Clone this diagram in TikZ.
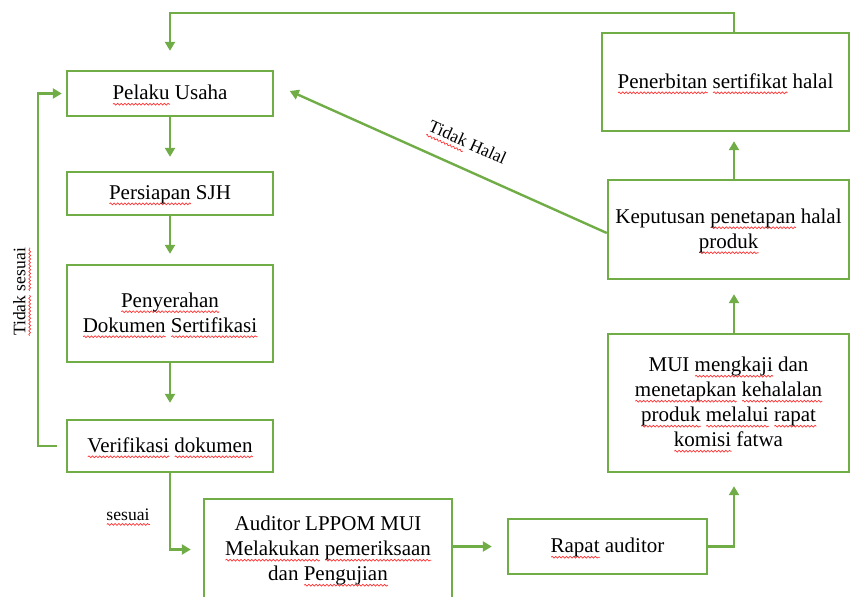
\documentclass[tikz,border=0pt]{standalone}
\usepackage{fontspec}
\setmainfont{Liberation Serif}
\usetikzlibrary{arrows.meta, decorations.pathmorphing}
\definecolor{leafgreen}{RGB}{112,173,71}
\newsavebox{\sqbox}
\newlength{\sqlen}
\newcommand{\sq}[1]{\sbox{\sqbox}{#1}\setlength{\sqlen}{\wd\sqbox}%
  \rlap{\pgfinterruptpicture\tikz[baseline=0pt]\draw[-, shorten >=0pt, shorten <=0pt, red!80, line width=0.35pt, decorate,
    decoration={snake, amplitude=0.45pt, segment length=1.8pt}] (0pt,-2.2pt) -- (\sqlen,-2.2pt);\endpgfinterruptpicture}%
  \usebox{\sqbox}}
\tikzset{
  box/.style={draw=leafgreen, line width=1.2pt, align=center, inner sep=2pt, text depth=1pt},
  flow/.style={draw=leafgreen, line width=1.2pt, -{Triangle[length=4.5pt,width=5pt]}},
  lbl/.style={font=\fontsize{8.8}{10}\selectfont, inner sep=1pt}
}

\begin{document}
\begin{tikzpicture}[x=0.5pt, y=-0.5pt, font=\fontsize{10.5}{12.5}\selectfont]
	\clip (0,0) rectangle (851,596);
	\coordinate (colx) at (734,0);
	\coordinate (topy) at (0,13);
	\coordinate (leftx) at (38,0);
	\node[box, minimum width=103pt, minimum height=22.5pt] (pelaku) at (170,93.5) {\sq{Pelaku} Usaha};
	\node[box, minimum width=103pt, minimum height=21.5pt] (sjh) at (170,193.5) {\sq{Persiapan} SJH};
	\node[box, minimum width=103pt, minimum height=48.5pt] (serah) at (170,313.5) {\sq{Penyerahan}\\ \sq{Dokumen} \sq{Sertifikasi}};
	\node[box, minimum width=103pt, minimum height=26pt] (verif) at (170,446) {\sq{Verifikasi} \sq{dokumen}};
	\node[box, minimum width=124pt, minimum height=50.5pt] (auditor) at (328,549.5) {Auditor LPPOM MUI\\ \sq{Melakukan} \sq{pemeriksaan}\\ dan \sq{Pengujian}};
	\node[box, minimum width=99.5pt, minimum height=27.5pt] (rapat) at (607.5,546.5) {\sq{Rapat} auditor};
	\node[box, minimum width=120.5pt, minimum height=69pt] (mui) at (728.5,403) {MUI \sq{mengkaji} dan\\ \sq{menetapkan} \sq{kehalalan}\\ \sq{produk} \sq{melalui} \sq{rapat}\\ \sq{komisi} fatwa};
	\node[box, minimum width=120.5pt, minimum height=49.5pt] (putus) at (728.5,229.5) {Keputusan \sq{penetapan} halal\\ \sq{produk}};
	\node[box, minimum width=123.5pt, minimum height=49pt] (terbit) at (725.5,82) {\sq{Penerbitan} \sq{sertifikat} halal};
	\node[lbl, rotate=90] (tidaksesuai) at (22,292) {\sq{Tidak} \sq{sesuai}};
	\node[lbl] (sesuai) at (128,517) {\sq{sesuai}};
	\draw[flow, shorten >=7pt] (pelaku) -- (sjh);
	\draw[flow, shorten >=5pt] (sjh) -- (serah);
	\draw[flow, shorten >=8pt] (serah) -- (verif);
	\draw[flow, shorten <=4.5pt, shorten >=2pt] (verif.west) -- (leftx |- verif.west) |- (pelaku.west);
	\draw[flow, shorten >=6pt] (verif.south) |- (auditor.west);
	\draw[flow, shorten >=7.5pt] (auditor.east |- rapat.west) -- (rapat.west);
	\draw[flow, shorten >=6.5pt] (rapat.east) -| (mui.south -| colx);
	\draw[flow, shorten >=7pt] (mui.north -| colx) -- (putus.south -| colx);
	\draw[flow, shorten >=4.5pt] (putus.north -| colx) -- (terbit.south -| colx);
	\draw[flow, shorten >=9.5pt] (terbit.north -| colx) -- (colx |- topy) -| (pelaku.north);
	\draw[flow, shorten >=8.5pt] ([yshift=-1.75pt]putus.west) -- node[lbl, sloped, above=6pt, pos=0.45] (tidakhalal) {\sq{Tidak} Halal} ([yshift=4.75pt]pelaku.east);
\end{tikzpicture}
\end{document}
